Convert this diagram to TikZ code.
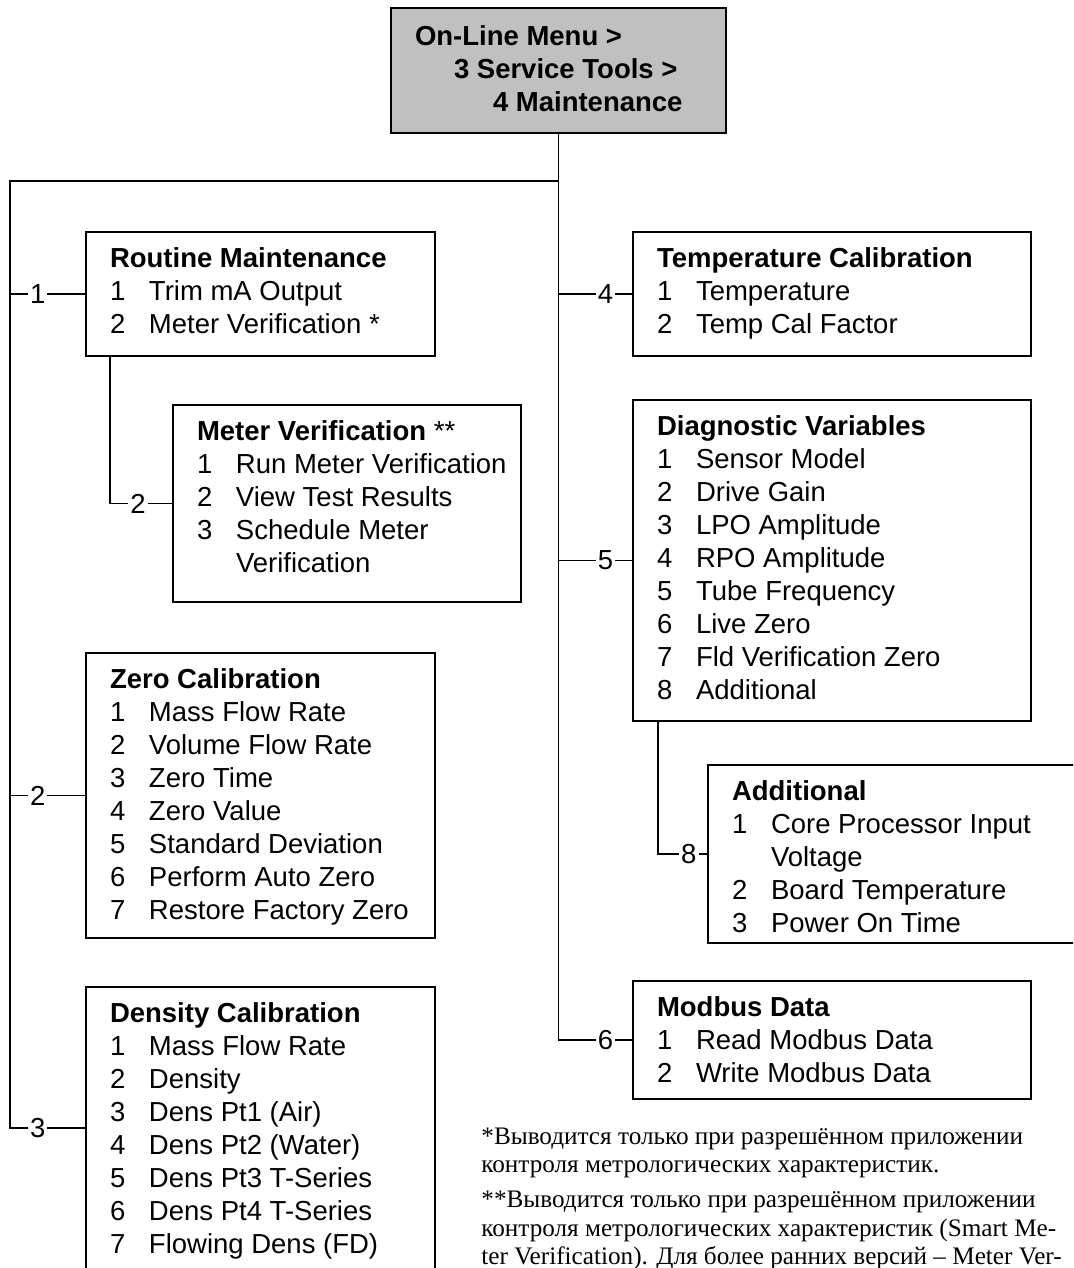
\documentclass[tikz,border=0pt]{standalone}
\usepackage{fontspec}
\setmainfont{Liberation Sans}
\newfontfamily\notefont{Liberation Serif}
\definecolor{MenuGray}{RGB}{192, 192, 192}

% one menu line: number column, then the entry
\newcommand{\itm}[2]{\makebox[19.5pt][l]{#1}#2}
\newcommand{\boxtitle}[1]{\rule{0pt}{17.75pt}\textbf{#1}}
\newcommand{\menutext}[3]{\parbox[t][#2][t]{#1}{\leftskip=12pt\relax #3}}

\tikzset{
  menubox/.style={draw, line width=1pt, inner sep=0pt, anchor=north west, font=\fontsize{13.75}{16.5}\selectfont},
  link/.style={line width=0.9pt},
  num/.style={fill=white, inner sep=1pt, font=\fontsize{13.75}{16.5}\selectfont}
}

\begin{document}
\begin{tikzpicture}[x=0.5pt, y=-0.5pt]
    \useasboundingbox (0,0) rectangle (1073,1268);
    \clip (0,0) rectangle (1073,1268);

    \node[menubox, fill=MenuGray] (top) at (390,7) {\parbox[t][62.5pt][t]{167.5pt}{\leftskip=12pt\relax\bfseries\rule{0pt}{18.75pt}On-Line Menu >\\ \hspace*{19.5pt}3 Service Tools >\\ \hspace*{39pt}4 Maintenance}};

    % left column
    \node[menubox] (routine) at (85,231) {\menutext{174.5pt}{62pt}{\boxtitle{Routine Maintenance}\\ \itm{1}{Trim mA Output}\\ \itm{2}{Meter Verification *}}};
    \node[menubox] (meterver) at (172,404) {\menutext{174pt}{98.5pt}{\boxtitle{Meter Verification} **\\ \itm{1}{Run Meter Verification}\\ \itm{2}{View Test Results}\\ \itm{3}{Schedule Meter}\\ \itm{}{Verification}}};
    \node[menubox] (zero) at (85,652) {\menutext{174.5pt}{142.5pt}{\boxtitle{Zero Calibration}\\ \itm{1}{Mass Flow Rate}\\ \itm{2}{Volume Flow Rate}\\ \itm{3}{Zero Time}\\ \itm{4}{Zero Value}\\ \itm{5}{Standard Deviation}\\ \itm{6}{Perform Auto Zero}\\ \itm{7}{Restore Factory Zero}}};
    \node[menubox] (density) at (85,986) {\menutext{174.5pt}{141pt}{\boxtitle{Density Calibration}\\ \itm{1}{Mass Flow Rate}\\ \itm{2}{Density}\\ \itm{3}{Dens Pt1 (Air)}\\ \itm{4}{Dens Pt2 (Water)}\\ \itm{5}{Dens Pt3 T-Series}\\ \itm{6}{Dens Pt4 T-Series}\\ \itm{7}{Flowing Dens (FD)}}};

    % right column
    \node[menubox] (temp) at (632,231) {\menutext{199pt}{62pt}{\boxtitle{Temperature Calibration}\\ \itm{1}{Temperature}\\ \itm{2}{Temp Cal Factor}}};
    \node[menubox] (diag) at (632,399) {\menutext{199pt}{160.5pt}{\boxtitle{Diagnostic Variables}\\ \itm{1}{Sensor Model}\\ \itm{2}{Drive Gain}\\ \itm{3}{LPO Amplitude}\\ \itm{4}{RPO Amplitude}\\ \itm{5}{Tube Frequency}\\ \itm{6}{Live Zero}\\ \itm{7}{Fld Verification Zero}\\ \itm{8}{Additional}}};
    \node[menubox] (additional) at (707,764) {\menutext{201.5pt}{89pt}{\boxtitle{Additional}\\ \itm{1}{Core Processor Input}\\ \itm{}{Voltage}\\ \itm{2}{Board Temperature}\\ \itm{3}{Power On Time}}};
    \node[menubox] (modbus) at (632,980) {\menutext{199pt}{59pt}{\boxtitle{Modbus Data}\\ \itm{1}{Read Modbus Data}\\ \itm{2}{Write Modbus Data}}};

    % connectors
    \coordinate (lefttop) at (10,181);
    \draw[link] (top.south) |- node[num, pos=0.82] {6} (modbus.west);
    \draw[link] (top.south |- lefttop) -- (lefttop) |- node[num, pos=0.685] {3} (density.west);
    \draw[link] (lefttop |- routine.west) -- node[num, pos=0.37] {1} (routine.west);
    \draw[link] (lefttop |- zero.west) -- node[num, pos=0.37] {2} (zero.west);
    \draw[link] (top.south |- temp.west) -- node[num, pos=0.64] {4} (temp.west);
    \draw[link] (top.south |- diag.west) -- node[num, pos=0.64] {5} (diag.west);
    \draw[link] ([xshift=12.5pt]routine.south west) |- node[num, pos=0.725] {2} (meterver.west);
    \draw[link] ([xshift=13pt]diag.south west) |- node[num, pos=0.815] {8} (additional.west);

    % footnotes
    \node[anchor=base west, inner sep=0pt, font=\notefont\fontsize{12.6}{14.2}\selectfont] (notes) at (481,1144) {\parbox[t]{400pt}{*Выводится только при разрешённом приложении\\ контроля метрологических характеристик.\\[3.5pt] **Выводится только при разрешённом приложении\\ контроля метрологических характеристик (Smart Me-\\ ter Verification). Для более ранних версий – Meter Ver-}};
\end{tikzpicture}
\end{document}
